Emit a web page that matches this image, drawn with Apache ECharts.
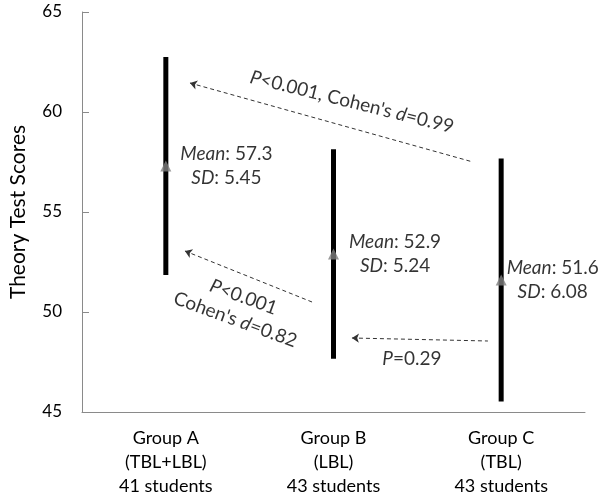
<!DOCTYPE html>
<html><head><meta charset="utf-8">
<script src="https://cdn.jsdelivr.net/npm/echarts@6/dist/echarts.min.js"></script>
<style>html,body{margin:0;padding:0;background:#fff}#c{width:600px;height:500px}</style>
</head><body><div id="c"></div>
<script>
// ---- data ----
const groups = ['Group A', 'Group B', 'Group C'];
const programs = ['(TBL+LBL)', '(LBL)', '(TBL)'];
const students = ['41 students', '43 students', '43 students'];
const means = [57.3, 52.9, 51.6];
const sds = [5.45, 5.24, 6.08];
const yTicks = [45, 50, 55, 60, 65];
const pTexts = ['<0.001', '<0.001', '=0.29'];
const cohensD = ['0.99', '0.82', null];

// ---- annotation layout (data coordinates; x = category index) ----
const arrowHeads = [[0.144, 61.45], [0.114, 53.05], [1.110, 48.70]];
const arrowTails = [[1.832, 57.50], [0.872, 50.50], [1.921, 48.55]];
const textAnchors = [[1.110, 60.50], [0.439, 50.18], [1.468, 47.65]];
const textRotate = [-14, -20, 0];
const meanLabelDist = [9, 10, 0];

const FONT = 'Lato';
const TXT = '#000';
const chart = echarts.init(document.getElementById('c'), null, {renderer: 'canvas'});

const annoText = (i) => {
  let s = '{i|P}{n|' + pTexts[i] + '}';
  if (cohensD[i] !== null) {
    s += (i === 0 ? "{n|, Cohen's }" : "\n{n|Cohen's }") + '{i|d}{n|=' + cohensD[i] + '}';
  }
  return s;
};

const richStyles = (size) => ({
  i: {fontStyle: 'italic', fontSize: size, color: TXT, align: 'center', lineHeight: 24, fontFamily: FONT},
  n: {fontSize: size, color: TXT, align: 'center', lineHeight: 24, fontFamily: FONT}
});

const option = {
  animation: false,
  textStyle: {fontFamily: FONT},
  grid: {left: 82, right: 15, top: 12, bottom: 88, containLabel: false},
  xAxis: [{
    type: 'category',
    data: groups,
    axisLine: {onZero: false, lineStyle: {color: '#8a8a8a', width: 1}},
    axisTick: {show: false},
    axisLabel: {
      fontSize: 18, lineHeight: 24, color: TXT, margin: 14, fontFamily: FONT,
      formatter: (v, i) => groups[i] + '\n' + programs[i] + '\n' + students[i]
    }
  }, {
    type: 'value', min: -0.5, max: 2.5, show: false,
    axisLine: {onZero: false}
  }],
  yAxis: {
    type: 'value', min: yTicks[0], max: yTicks[yTicks.length - 1], interval: 5,
    name: 'Theory Test Scores', nameLocation: 'middle', nameGap: 53,
    nameTextStyle: {fontSize: 21, color: TXT, fontFamily: FONT},
    axisLine: {show: true, onZero: false, lineStyle: {color: '#8a8a8a', width: 1}},
    axisTick: {show: true, inside: true, length: 7, lineStyle: {color: '#8a8a8a'}},
    splitLine: {show: false},
    axisLabel: {fontSize: 17, color: TXT, margin: 20, fontFamily: FONT}
  },
  series: [
    {
      type: 'custom', xAxisIndex: 0, yAxisIndex: 0, silent: true,
      data: groups.map((g, i) => [i, means[i] - sds[i], means[i] + sds[i]]),
      encode: {x: 0, y: [1, 2]},
      renderItem: (params, api) => {
        const lo = api.coord([api.value(0), api.value(1)]);
        const hi = api.coord([api.value(0), api.value(2)]);
        return {type: 'line', shape: {x1: lo[0], y1: lo[1], x2: hi[0], y2: hi[1]},
                style: {stroke: '#000', lineWidth: 5}};
      }
    },
    {
      type: 'scatter', xAxisIndex: 0, yAxisIndex: 0, silent: true,
      symbol: 'triangle', symbolSize: [11, 11],
      itemStyle: {color: '#808080'},
      data: groups.map((g, i) => ({
        value: [i, means[i]],
        label: {distance: meanLabelDist[i]}
      })),
      label: {
        show: true, position: 'right',
        formatter: (p) => '{i|Mean}{n|: ' + means[p.dataIndex].toFixed(1) + '}\n{i|SD}{n|: ' + sds[p.dataIndex].toFixed(2) + '}',
        rich: richStyles(19)
      }
    },
    {
      type: 'lines', coordinateSystem: 'cartesian2d', xAxisIndex: 1, yAxisIndex: 0, silent: true,
      symbol: ['arrow', 'none'], symbolSize: [7, 9],
      lineStyle: {color: '#333', width: 1, type: [4, 3], opacity: 1, curveness: 0},
      data: arrowHeads.map((h, i) => ({coords: [h, arrowTails[i]]}))
    },
    {
      type: 'scatter', xAxisIndex: 1, yAxisIndex: 0, silent: true,
      symbolSize: 0,
      data: textAnchors.map((a, i) => ({
        value: a,
        label: {rotate: textRotate[i]}
      })),
      label: {
        show: true, position: 'inside',
        formatter: (p) => annoText(p.dataIndex),
        rich: richStyles(19)
      }
    }
  ]
};
chart.setOption(option);
</script></body></html>
